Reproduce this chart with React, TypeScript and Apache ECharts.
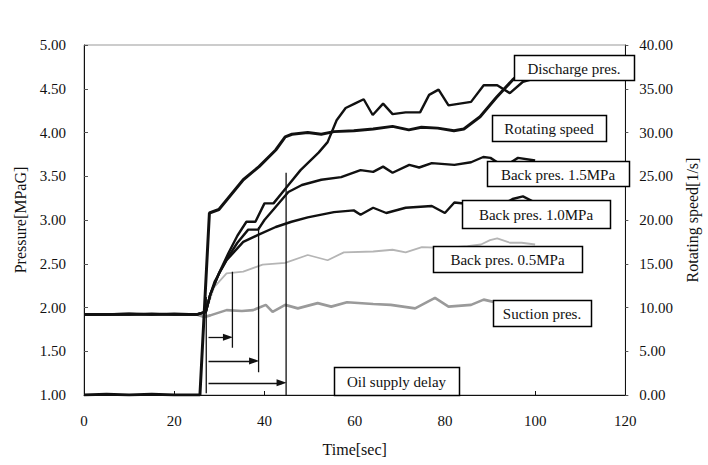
import React, { useEffect, useRef } from "react";
import * as echarts from "echarts";

// ---- data ----
const timeMin = 0;
const timeMax = 120;
const timeStep = 20;
const pressureMin = 1;
const pressureMax = 5;
const pressureStep = 0.5;
const speedMin = 0;
const speedMax = 40;
const speedStep = 5;

const dischargeT = [0, 5, 10, 15, 20, 25, 27, 28, 30, 32, 34, 36, 38, 40, 42, 45, 48, 52, 54, 56, 58, 60, 62, 64, 66.3, 68.4, 71.3, 74.5, 76.5, 78.6, 80.8, 85.8, 88.6, 91.6, 94.4, 97.3, 100];
const dischargeP = [1.92, 1.92, 1.93, 1.92, 1.92, 1.92, 1.95, 2.15, 2.4, 2.62, 2.82, 2.98, 2.98, 3.19, 3.19, 3.38, 3.57, 3.77, 3.89, 4.14, 4.28, 4.33, 4.38, 4.2, 4.33, 4.21, 4.23, 4.23, 4.43, 4.49, 4.31, 4.35, 4.54, 4.54, 4.45, 4.58, 4.62];

const speedT = [0, 5, 10, 15, 20, 25.7, 27.8, 29.9, 35.3, 38.8, 42.5, 44.6, 46.1, 49.6, 52.6, 55.4, 59.8, 64.1, 68.4, 72, 74.8, 78.4, 82, 84.2, 87.8, 91.4, 95, 97.9, 100];
const speedS = [0, 0.1, 0, 0.1, 0, 0, 20.8, 21.2, 24.6, 26.1, 28, 29.5, 29.8, 30, 29.8, 30.1, 30.2, 30.4, 30.7, 30.3, 30.6, 30.5, 30.2, 30.4, 31.8, 34, 36, 37.3, 38];

const back15T = [0, 5, 10, 15, 20, 25, 27, 28, 30, 32, 34, 36.4, 38.6, 40, 42, 45.3, 48.3, 52.6, 57, 61.3, 64.1, 66.3, 68.4, 72.1, 74.3, 77.1, 82.1, 85.8, 88.5, 90.1, 91.6, 94, 96.2, 100];
const back15P = [1.92, 1.92, 1.92, 1.93, 1.92, 1.92, 1.95, 2.15, 2.4, 2.58, 2.74, 2.89, 2.89, 3.0, 3.12, 3.32, 3.4, 3.46, 3.49, 3.57, 3.55, 3.61, 3.54, 3.63, 3.6, 3.65, 3.63, 3.66, 3.72, 3.71, 3.66, 3.64, 3.71, 3.68];

const back10T = [0, 5, 10, 15, 20, 25, 27, 28, 29, 31.6, 35.3, 38.6, 42.5, 46, 49.6, 55.4, 59.8, 61.3, 64.1, 67, 71.3, 77.1, 80, 82.1, 85.8, 90.1, 93, 95, 97.3, 100];
const back10P = [1.92, 1.92, 1.92, 1.92, 1.93, 1.92, 1.95, 2.15, 2.3, 2.54, 2.75, 2.83, 2.92, 2.98, 3.03, 3.09, 3.11, 3.06, 3.14, 3.08, 3.14, 3.16, 3.08, 3.2, 3.18, 3.18, 3.18, 3.24, 3.27, 3.2];

const back05T = [0, 5, 10, 15, 20, 25, 27, 28.8, 31.6, 35.3, 39.6, 44.6, 49.6, 54, 57.6, 64.1, 68.4, 71.3, 74.9, 80, 85, 88, 90, 91.6, 94.4, 97, 100];
const back05P = [1.92, 1.92, 1.92, 1.92, 1.92, 1.92, 1.95, 2.23, 2.39, 2.41, 2.49, 2.51, 2.6, 2.54, 2.63, 2.64, 2.66, 2.63, 2.69, 2.68, 2.7, 2.72, 2.77, 2.79, 2.74, 2.74, 2.72];

const suctionT = [0, 5, 10, 15, 20, 25, 26.6, 28, 31.6, 35, 37.5, 40.3, 41.8, 44.6, 47.4, 51.8, 54.8, 58.3, 64.1, 68, 73.4, 77.8, 80.8, 85.8, 88.6, 92, 96, 100];
const suctionP = [1.92, 1.92, 1.93, 1.92, 1.92, 1.92, 1.89, 1.91, 1.97, 1.96, 1.97, 2.03, 1.95, 2.03, 1.99, 2.05, 2.01, 2.06, 2.04, 2.03, 1.99, 2.11, 2.01, 2.03, 2.09, 2.05, 2.06, 2.05];

// oil supply delay markers
const oilStartT = 27.1;
const oilStartRange = [1.02, 2.12];
const oilEndT = [32.9, 38.7, 44.8];
const oilEndTop = [2.41, 2.92, 3.54];
const oilEndBottom = [1.54, 1.26, 1.0];
const arrowStartT = 27.6;
const arrowP = [1.66, 1.39, 1.14];

// labels
const labelTexts = [
  "Discharge pres.",
  "Rotating speed",
  "Back pres. 1.5MPa",
  "Back pres. 1.0MPa",
  "Back pres. 0.5MPa",
  "Suction pres.",
  "Oil supply delay",
];
// pixel boxes for the callout labels [x, y, w, h]
const labelBoxes = [
  [514, 55, 120, 25],
  [492, 115, 114, 26],
  [487, 161, 142, 25],
  [462, 200, 148, 28],
  [433, 246, 149, 26],
  [493, 300, 98, 26],
  [334, 367, 125, 28],
];

const FONT = "'Liberation Serif', 'Times New Roman', serif";

const zip = (a: number[], b: number[]) => a.map((v, i) => [v, b[i]]);

export default function App() {
  const ref = useRef<HTMLDivElement>(null);
  useEffect(() => {
    if (!ref.current) return;
    const chart = echarts.init(ref.current, undefined, { renderer: "svg" });

    const blackLine = (name: string, t: number[], v: number[], axis: number, width: number, z: number) => ({
      name,
      type: "line",
      yAxisIndex: axis,
      data: zip(t, v),
      symbol: "none",
      smooth: false,
      z,
      lineStyle: { color: "#111", width },
      silent: true,
    });

    const verticals: any[] = [];
    verticals.push({
      type: "line",
      data: [
        [oilStartT, oilStartRange[0]],
        [oilStartT, oilStartRange[1]],
      ],
      symbol: "none",
      z: 6,
      lineStyle: { color: "#111", width: 1.3 },
      silent: true,
      markLine: {
        silent: true,
        symbol: ["none", "triangle"],
        symbolSize: [7, 10],
        label: { show: false },
        lineStyle: { color: "#111", width: 1.3, type: "solid" },
        data: oilEndT.map((t, i) => [
          { coord: [arrowStartT, arrowP[i]] },
          { coord: [t - 1.0, arrowP[i]] },
        ]),
        animation: false,
      },
    });
    oilEndT.forEach((t, i) => {
      verticals.push({
        type: "line",
        data: [
          [t, oilEndBottom[i]],
          [t, oilEndTop[i]],
        ],
        symbol: "none",
        z: 6,
        lineStyle: { color: "#111", width: 1.3 },
        silent: true,
      });
    });

    const graphics: any[] = [];
    labelBoxes.forEach((b, i) => {
      graphics.push({
        type: "rect",
        shape: { x: b[0] + 0.5, y: b[1] + 0.5, width: b[2], height: b[3] },
        style: { fill: "#fff", stroke: "#000", lineWidth: 1.5 },
        z: 100,
        silent: true,
      });
      graphics.push({
        type: "text",
        x: b[0] + b[2] / 2,
        y: b[1] + b[3] / 2 + 1,
        style: {
          text: labelTexts[i],
          fill: "#111",
          fontSize: 15,
          fontFamily: FONT,
          align: "center",
          verticalAlign: "middle",
        },
        z: 101,
        silent: true,
      });
    });

    chart.setOption({
      animation: false,
      backgroundColor: "#fff",
      textStyle: { fontFamily: FONT },
      grid: {
        left: 84,
        right: 70,
        top: 45,
        bottom: 70,
        show: true,
        borderColor: "#999",
        borderWidth: 1,
        containLabel: false,
      },
      xAxis: {
        type: "value",
        min: timeMin,
        max: timeMax,
        interval: timeStep,
        name: "Time[sec]",
        nameLocation: "middle",
        nameGap: 46,
        nameTextStyle: { fontFamily: FONT, fontSize: 16, color: "#111" },
        axisLine: { show: true, lineStyle: { color: "#111", width: 1 } },
        axisTick: { show: true, inside: true, length: 4, lineStyle: { color: "#111" } },
        axisLabel: { fontFamily: FONT, fontSize: 15, color: "#111", margin: 18 },
        splitLine: { show: false },
      },
      yAxis: [
        {
          type: "value",
          position: "left",
          min: pressureMin,
          max: pressureMax,
          interval: pressureStep,
          name: "Pressure[MPaG]",
          nameLocation: "middle",
          nameGap: 52,
          nameRotate: 90,
          nameTextStyle: { fontFamily: FONT, fontSize: 16, color: "#111" },
          axisLine: { show: true, lineStyle: { color: "#111", width: 1 } },
          axisTick: { show: true, inside: true, length: 4, lineStyle: { color: "#555" } },
          axisLabel: {
            fontFamily: FONT,
            fontSize: 15,
            color: "#111",
            margin: 18,
            formatter: (v: number) => v.toFixed(2),
          },
          splitLine: { show: false },
        },
        {
          type: "value",
          position: "right",
          min: speedMin,
          max: speedMax,
          interval: speedStep,
          name: "Rotating speed[1/s]",
          nameLocation: "middle",
          nameGap: 52,
          nameRotate: 90,
          nameTextStyle: { fontFamily: FONT, fontSize: 16, color: "#111" },
          axisLine: { show: true, lineStyle: { color: "#111", width: 1 } },
          axisTick: { show: true, inside: false, length: 3, lineStyle: { color: "#555" } },
          axisLabel: {
            fontFamily: FONT,
            fontSize: 15,
            color: "#111",
            margin: 14,
            formatter: (v: number) => v.toFixed(2),
          },
          splitLine: { show: false },
        },
      ],
      series: [
        {
          name: "Suction pres.",
          type: "line",
          yAxisIndex: 0,
          data: zip(suctionT, suctionP),
          symbol: "none",
          z: 2,
          lineStyle: { color: "#9a9a9a", width: 2.6 },
          silent: true,
        },
        {
          name: "Back pres. 0.5MPa",
          type: "line",
          yAxisIndex: 0,
          data: zip(back05T, back05P),
          symbol: "none",
          z: 2,
          lineStyle: { color: "#b5b5b5", width: 1.8 },
          silent: true,
        },
        blackLine("Back pres. 1.0MPa", back10T, back10P, 0, 2.4, 3),
        blackLine("Back pres. 1.5MPa", back15T, back15P, 0, 2.4, 3),
        blackLine("Discharge pres.", dischargeT, dischargeP, 0, 2.4, 3),
        blackLine("Rotating speed", speedT, speedS, 1, 3, 4),
        ...verticals,
      ],
      graphic: graphics,
    });
    return () => chart.dispose();
  }, []);
  return (
    <div
      ref={ref}
      style={{ position: "fixed", left: 0, top: 0, width: 708, height: 465, background: "#fff" }}
    />
  );
}
